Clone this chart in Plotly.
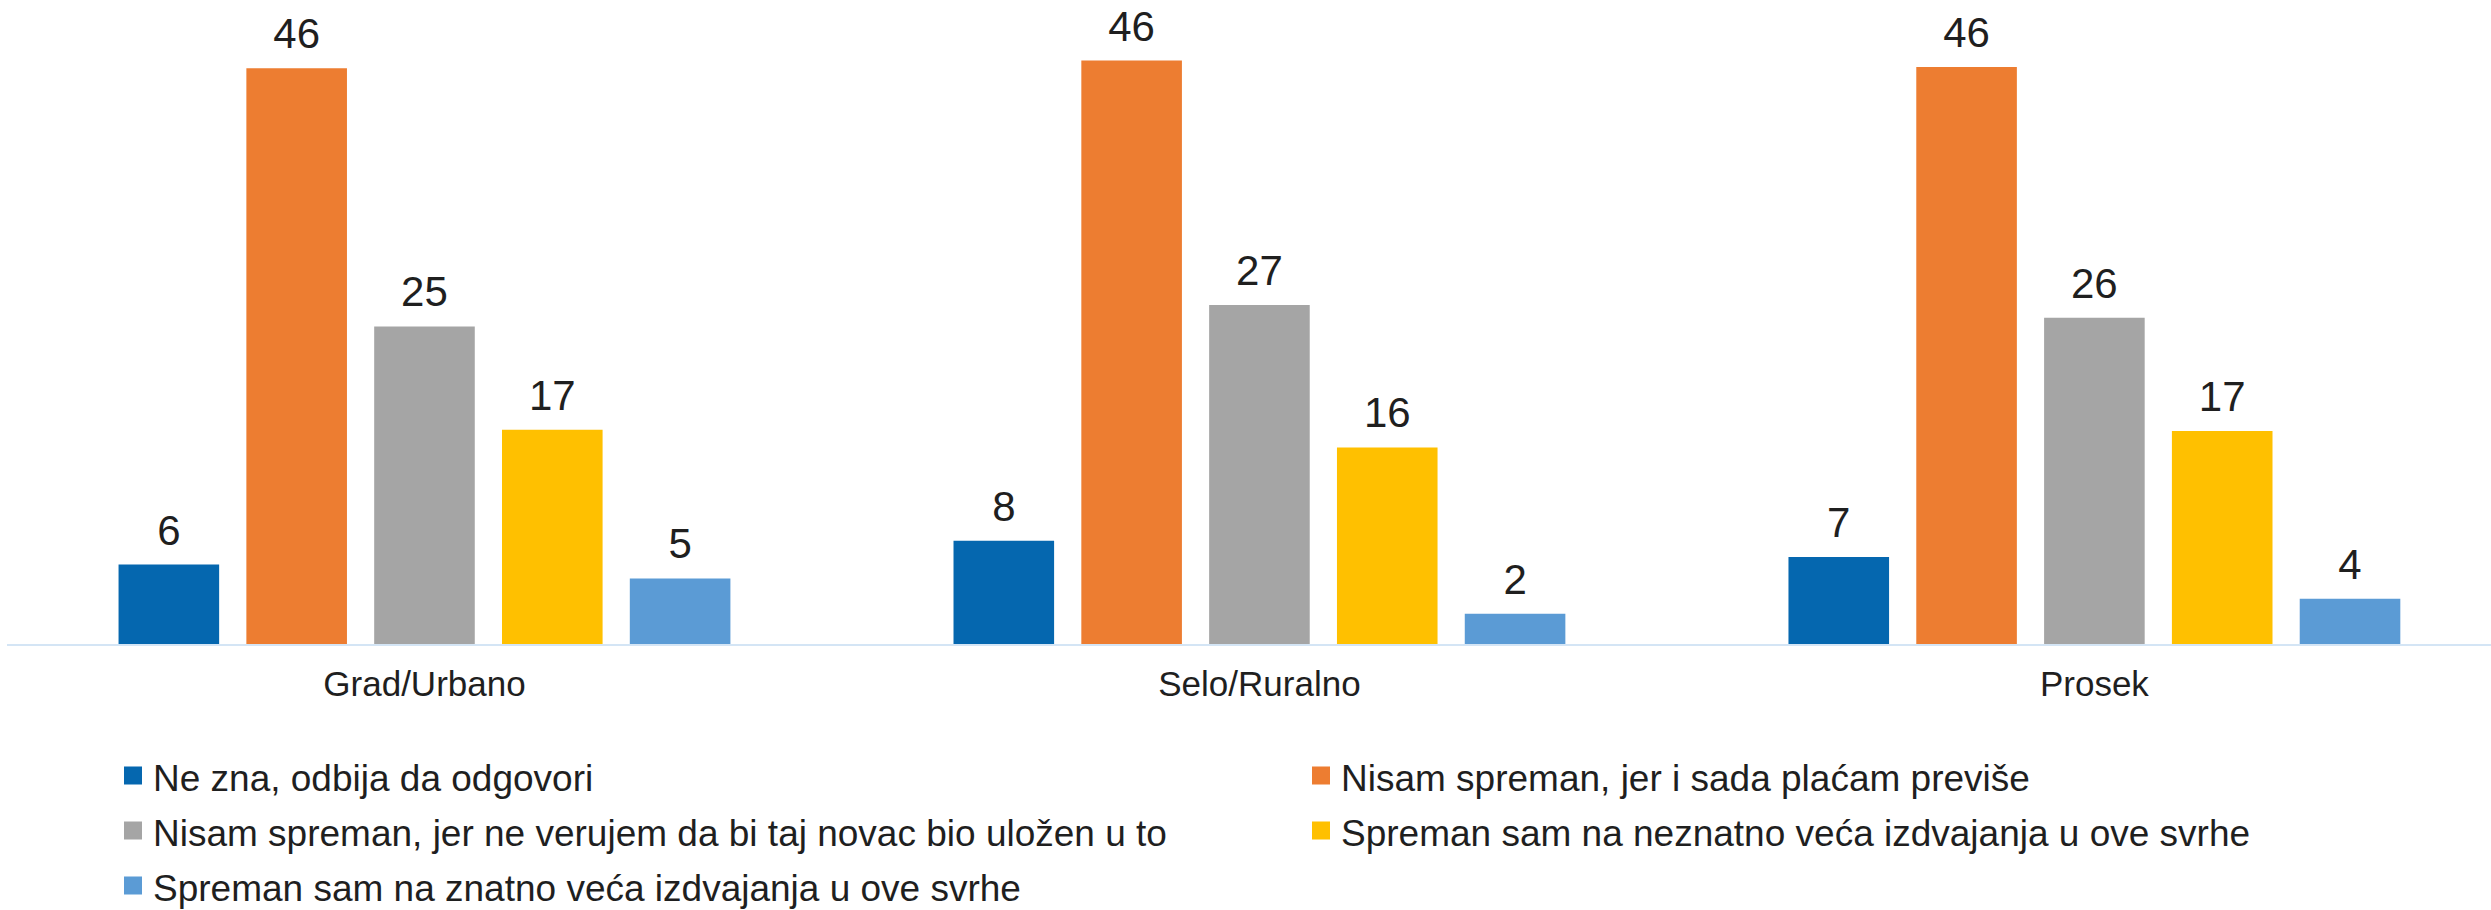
import plotly.graph_objects as go

categories = ["Grad/Urbano", "Selo/Ruralno", "Prosek"]

series_names = [
    "Ne zna, odbija da odgovori",
    "Nisam spreman, jer i sada plaćam previše",
    "Nisam spreman, jer ne verujem da bi taj novac bio uložen u to",
    "Spreman sam na neznatno veća izdvajanja u ove svrhe",
    "Spreman sam na znatno veća izdvajanja u ove svrhe",
]

ne_zna = [6.3, 8.2, 6.9]
previse = [45.7, 46.3, 45.8]
ne_verujem = [25.2, 26.9, 25.9]
neznatno = [17.0, 15.6, 16.9]
znatno = [5.2, 2.4, 3.6]

series_values = [ne_zna, previse, ne_verujem, neznatno, znatno]
colors = ["#0567AF", "#ED7D31", "#A5A5A5", "#FFC000", "#5B9BD5"]

TEXT = "#1f1f1f"
FONT = "Liberation Sans, Arial, sans-serif"
GAP = 0.2346

fig = go.Figure()
for i, (name, vals, col) in enumerate(zip(series_names, series_values, colors)):
    g = str(i)
    fig.add_trace(go.Bar(
        x=categories, y=vals, name=name, offsetgroup=g,
        marker=dict(color=col, line=dict(width=0)),
        showlegend=False, legendgroup=name, hoverinfo="x+y",
    ))
    # value labels above bars (scatter grouped like the bars)
    fig.add_trace(go.Scatter(
        x=categories, y=vals, mode="markers+text", offsetgroup=g,
        marker=dict(size=13.6, opacity=0, color=col),
        texttemplate="%{y:.0f}", textposition="top center",
        textfont=dict(size=42, color=TEXT, family=FONT),
        cliponaxis=False, showlegend=False, hoverinfo="skip", legendgroup=name,
    ))
    # legend swatch
    fig.add_trace(go.Scatter(
        x=[None], y=[None], mode="markers", offsetgroup=g,
        name="<span style='font-size:37px'>" + name + "</span>", legendgroup=name,
        marker=dict(symbol="square", size=16, color=col, line=dict(width=2, color=col)),
        showlegend=True, hoverinfo="skip",
    ))

fig.update_layout(
    width=2491, height=910,
    margin=dict(l=7, r=0, t=14, b=266),
    paper_bgcolor="white", plot_bgcolor="white",
    barmode="group", bargap=GAP, bargroupgap=0.213,
    scattermode="group", scattergap=GAP,
    font=dict(family=FONT, color=TEXT),
    showlegend=True,
    legend=dict(
        orientation="h", xref="container", yref="container",
        x=113 / 2491, xanchor="left",
        y=1 - 743 / 910, yanchor="top",
        entrywidth=1143, entrywidthmode="pixels",
        font=dict(size=40, color=TEXT, family=FONT),
        itemsizing="trace", traceorder="normal",
        bgcolor="rgba(0,0,0,0)",
    ),
    xaxis=dict(
        range=[-0.5, 2.475], showline=True, linecolor="#d4e5f5", linewidth=2,
        showgrid=False, zeroline=False, ticks="", ticklabelstandoff=8,
        tickfont=dict(size=35, color=TEXT, family=FONT),
        fixedrange=True,
    ),
    yaxis=dict(
        range=[0, 50], visible=False, showgrid=False, zeroline=False, fixedrange=True,
    ),
)

fig.write_html(
    "out.html",
    config={"displayModeBar": False},
    post_script="document.body.style.margin='0';document.body.style.overflow='hidden';",
)
